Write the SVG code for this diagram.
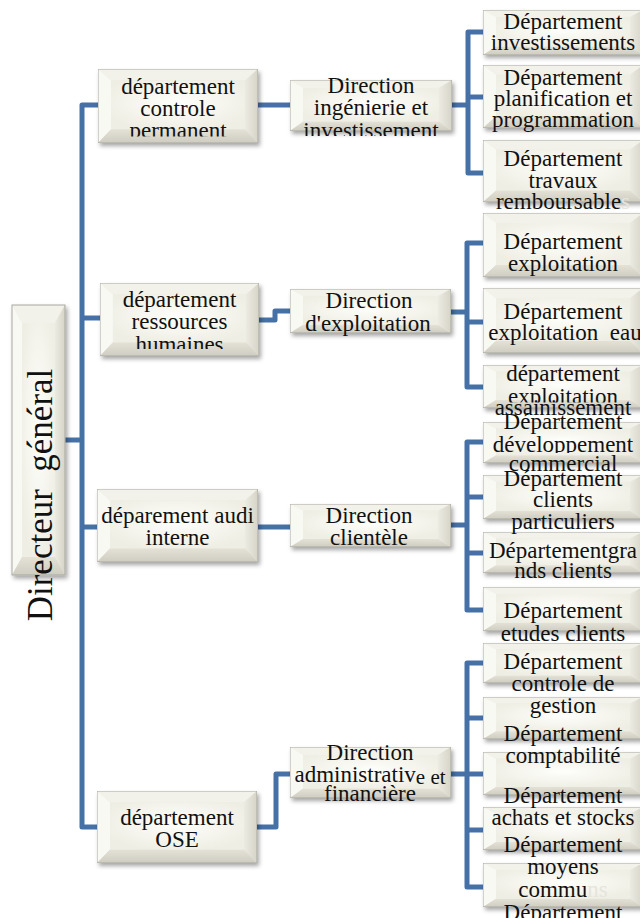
<svg xmlns="http://www.w3.org/2000/svg" xmlns:xlink="http://www.w3.org/1999/xlink" width="640" height="918" viewBox="0 0 640 918">
<style>
.t{font-family:"Liberation Serif","Times New Roman",serif;font-size:23px;fill:#111;text-anchor:middle}
.big{font-size:35px}
.ghost{fill:#e6e5dc}
.c{fill:none;stroke:#4571a7;stroke-width:5;stroke-linejoin:round;stroke-linecap:butt}
.box{filter:url(#sh)}
</style>
<defs>
<filter id="sh" x="-10%" y="-10%" width="125%" height="130%">
<feDropShadow dx="2" dy="3" stdDeviation="2" flood-color="#000" flood-opacity="0.35"/>
</filter>
<radialGradient id="gFace" cx="50%" cy="45%" r="60%">
<stop offset="0" stop-color="#fefefb"/>
<stop offset="1" stop-color="#efeee4"/>
</radialGradient>
<linearGradient id="gRight" x1="0" y1="0" x2="1" y2="0">
<stop offset="0" stop-color="#ecebe2"/>
<stop offset="1" stop-color="#d6d4c8"/>
</linearGradient>
<linearGradient id="gBot" x1="0" y1="0" x2="0" y2="1">
<stop offset="0" stop-color="#e4e2d7"/>
<stop offset="1" stop-color="#cfcdc1"/>
</linearGradient>
<symbol id="bev" viewBox="0 0 160 64" preserveAspectRatio="none">
<rect width="160" height="64" fill="#ebeae0"/>
<polygon points="0,0 160,0 147,10 13,10" fill="#f3f2ea"/>
<polygon points="0,0 13,10 13,52 0,64" fill="#f9f9f4"/>
<polygon points="160,0 160,64 147,52 147,10" fill="url(#gRight)"/>
<polygon points="0,64 160,64 147,52 13,52" fill="url(#gBot)"/>
<rect x="13" y="10" width="134" height="42" fill="url(#gFace)"/>
<rect x="0" y="0" width="160" height="64" fill="none" stroke="#a9a89f" stroke-width="1" vector-effect="non-scaling-stroke"/>
</symbol>
<clipPath id="c1" clipPathUnits="userSpaceOnUse"><rect x="98" y="60" width="160" height="76.5"/></clipPath>
<clipPath id="c2" clipPathUnits="userSpaceOnUse"><rect x="100" y="280" width="159" height="69"/></clipPath>
<clipPath id="c3" clipPathUnits="userSpaceOnUse"><rect x="290" y="80" width="162" height="56"/></clipPath>
<clipPath id="c4" clipPathUnits="userSpaceOnUse"><rect x="483" y="380" width="160" height="22.5"/></clipPath>
<clipPath id="c5" clipPathUnits="userSpaceOnUse"><rect x="483" y="430" width="160" height="23"/></clipPath>
<clipPath id="c6" clipPathUnits="userSpaceOnUse"><rect x="483" y="620" width="160" height="22"/></clipPath>
</defs>
<rect width="640" height="918" fill="#fff"/>

<g id="connectors">
<path class="c" d="M65,440 H82"/>
<path class="c" d="M98,105 H82 V827 H97"/>
<path class="c" d="M82,318 H100"/>
<path class="c" d="M82,527 H97"/>
<path class="c" d="M258,105 H290"/>
<path class="c" d="M259,320 H275 V311 H290"/>
<path class="c" d="M258,527 H290"/>
<path class="c" d="M257,827 H276 V774 H290"/>
<path class="c" d="M452,105 H468"/>
<path class="c" d="M483,32 H468 V173 H483"/>
<path class="c" d="M468,97 H483"/>
<path class="c" d="M451,312 H467"/>
<path class="c" d="M483,243 H467 V387 H483"/>
<path class="c" d="M467,322 H483"/>
<path class="c" d="M451,525 H467"/>
<path class="c" d="M483,442 H467 V610 H483"/>
<path class="c" d="M467,497 H483"/>
<path class="c" d="M467,553 H483"/>
<path class="c" d="M451,774 H467"/>
<path class="c" d="M483,663 H467 V887 H483"/>
<path class="c" d="M467,718 H483"/>
<path class="c" d="M467,774 H483"/>
<path class="c" d="M467,830 H483"/>
</g>

<g id="directeur">
<g class="box">
<rect x="12" y="305" width="53" height="270" fill="#ebeae0"/>
<polygon points="12,305 65,305 55,323 22,323" fill="#f3f2ea"/>
<polygon points="12,305 22,323 22,557 12,575" fill="#f9f9f4"/>
<polygon points="65,305 65,575 55,557 55,323" fill="url(#gRight)"/>
<polygon points="12,575 65,575 55,557 22,557" fill="url(#gBot)"/>
<rect x="22" y="323" width="33" height="234" fill="url(#gFace)"/>
<rect x="12" y="305" width="53" height="270" fill="none" stroke="#a9a89f" stroke-width="1"/>
</g>
<text class="t big" transform="translate(52,495) rotate(-90)" x="0" y="0">Directeur&#160; général</text>
</g>

<g id="dep-osE">
<use class="box" href="#bev" x="97" y="791" width="160" height="72"/>
<text class="t" x="177" y="825">département</text>
<text class="t" x="177" y="847">OSE</text>
</g>
<g id="dep-audit">
<use class="box" href="#bev" x="97" y="489" width="161" height="73"/>
<text class="t" x="177.5" y="523">déparement audi</text>
<text class="t" x="177.5" y="545">interne</text>
</g>
<g id="dep-rh">
<use class="box" href="#bev" x="100" y="283" width="159" height="73"/>
<text class="t" x="179.5" y="307">département</text>
<text class="t" x="179.5" y="329">ressources</text>
<text class="t" x="179.5" y="352" clip-path="url(#c2)">humaines</text>
</g>
<g id="dep-controle">
<use class="box" href="#bev" x="98" y="69" width="160" height="74"/>
<text class="t" x="178" y="94">département</text>
<text class="t" x="178" y="116">controle</text>
<text class="t" x="178" y="138" clip-path="url(#c1)">permanent</text>
</g>

<g id="dir-daf">
<use class="box" href="#bev" x="290" y="747" width="161" height="51"/>
<text class="t" x="370" y="760">Direction</text>
<text class="t" x="370" y="782">administrativ<tspan font-size="21" dy="2">e et</tspan></text>
<text class="t" x="370" y="801">financière</text>
</g>
<g id="dir-clientele">
<use class="box" href="#bev" x="290" y="504" width="161" height="43"/>
<text class="t" x="369" y="523">Direction</text>
<text class="t" x="369" y="545">clientèle</text>
</g>
<g id="dir-exploitation">
<use class="box" href="#bev" x="290" y="289" width="161" height="44"/>
<text class="t" x="369" y="308">Direction</text>
<text class="t" x="368" y="331">d'exploitation</text>
</g>
<g id="dir-ingenierie">
<use class="box" href="#bev" x="290" y="80" width="162" height="51"/>
<text class="t" x="371" y="93">Direction</text>
<text class="t" x="371" y="115">ingénierie et</text>
<text class="t" x="371" y="138" clip-path="url(#c3)">investissement</text>
</g>

<g id="g4e">
<use class="box" href="#bev" x="483" y="863" width="160" height="44"/>
<text class="t" x="563" y="920">Département</text>
</g>
<g id="g4d">
<use class="box" href="#bev" x="483" y="807" width="160" height="43"/>
<text class="t" x="563" y="852">Département</text>
<text class="t" x="563" y="874">moyens</text>
<text class="t" x="563" y="897">commu<tspan class="ghost">ns</tspan></text>
</g>
<g id="g4c">
<use class="box" href="#bev" x="483" y="752" width="160" height="43"/>
<text class="t" x="563" y="803">Département</text>
<text class="t" x="563" y="825">achats et stocks</text>
</g>
<g id="g4b">
<use class="box" href="#bev" x="483" y="697" width="160" height="42"/>
<text class="t" x="563" y="741">Département</text>
<text class="t" x="563" y="763">comptabilité</text>
</g>
<g id="g4a">
<use class="box" href="#bev" x="483" y="643" width="160" height="40"/>
<text class="t" x="563" y="669">Département</text>
<text class="t" x="563" y="691">controle de</text>
<text class="t" x="563" y="713">gestion</text>
</g>

<g id="g3d">
<use class="box" href="#bev" x="483" y="587" width="160" height="44"/>
<text class="t" x="563" y="618">Département</text>
<text class="t" x="563" y="641" clip-path="url(#c6)">etudes clients</text>
</g>
<g id="g3c">
<use class="box" href="#bev" x="483" y="532" width="160" height="41"/>
<text class="t" x="563" y="558">Départementgra</text>
<text class="t" x="563" y="578">nds clients</text>
</g>
<g id="g3b">
<use class="box" href="#bev" x="483" y="475" width="160" height="44"/>
<text class="t" x="563" y="486">Département</text>
<text class="t" x="563" y="507">clients</text>
<text class="t" x="563" y="529">particuliers</text>
</g>
<g id="g3a">
<use class="box" href="#bev" x="483" y="422" width="160" height="41"/>
<text class="t" x="563" y="429">Département</text>
<text class="t" x="563" y="452" clip-path="url(#c5)">développement</text>
<text class="t" x="563" y="471">commercial</text>
</g>

<g id="g2c">
<use class="box" href="#bev" x="483" y="365" width="160" height="43"/>
<text class="t" x="563" y="381">département</text>
<text class="t" x="563" y="404" clip-path="url(#c4)">exploitation</text>
<text class="t" x="563" y="415">assainissement</text>
</g>
<g id="g2b">
<use class="box" href="#bev" x="483" y="288" width="160" height="65"/>
<text class="t" x="563" y="319">Département</text>
<text class="t" x="565" y="340">exploitation&#160; eau</text>
</g>
<g id="g2a">
<use class="box" href="#bev" x="483" y="213" width="160" height="64"/>
<text class="t" x="563" y="249">Département</text>
<text class="t" x="563" y="271">exploitation</text>
</g>

<g id="g1c">
<use class="box" href="#bev" x="483" y="140" width="160" height="62"/>
<text class="t" x="563" y="166">Département</text>
<text class="t" x="563" y="188">travaux</text>
<text class="t" x="563" y="209">remboursable<tspan class="ghost">s</tspan></text>
</g>
<g id="g1b">
<use class="box" href="#bev" x="483" y="65" width="160" height="63"/>
<text class="t" x="563" y="85">Département</text>
<text class="t" x="563" y="106">planification et</text>
<text class="t" x="563" y="127">programmation</text>
</g>
<g id="g1a">
<use class="box" href="#bev" x="483" y="10" width="160" height="45"/>
<text class="t" x="563" y="29">Département</text>
<text class="t" x="563" y="50">investissements</text>
</g>
</svg>
